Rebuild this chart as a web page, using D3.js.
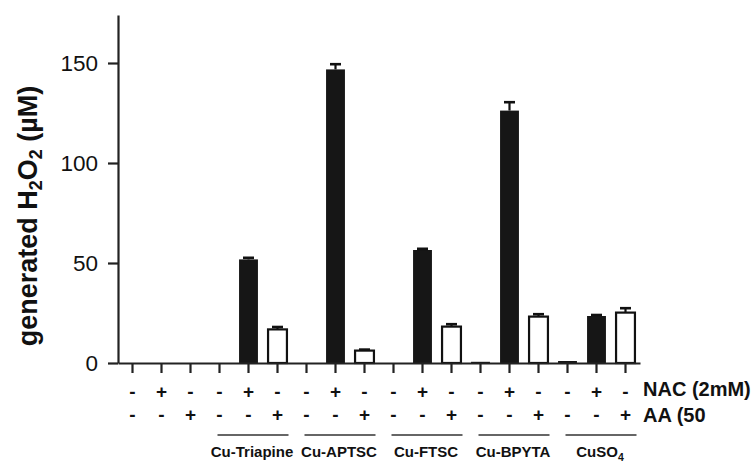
<!DOCTYPE html>
<html><head><meta charset="utf-8">
<script src="https://cdn.jsdelivr.net/npm/d3@7/dist/d3.min.js"></script>
<style>body{margin:0;background:#fff;} svg{display:block;} text{font-family:"Liberation Sans",Arial,Helvetica,sans-serif;}</style>
</head><body>
<svg id="c" width="752" height="462"></svg>
<script>
// ---- data ----
const categories = ["c1","c2","c3","t1","t2","t3","a1","a2","a3","f1","f2","f3","b1","b2","b3","s1","s2","s3"];
const nacSigns = ["-","+","-","-","+","-","-","+","-","-","+","-","-","+","-","-","+","-"];
const aaSigns  = ["-","-","+","-","-","+","-","-","+","-","-","+","-","-","+","-","-","+"];
const values   = [0,0,0, 0,51.8,16.8, 0,146.8,6.2, 0,56.5,18.2, 0.6,126.2,23.2, 1.0,23.5,25.2];
const errors   = [0,0,0, 0,0.8,1.2, 0,2.6,0.5, 0,0.6,1.2, 0,4.2,1.2, 0,0.5,2.2];
const groups   = ["Cu-Triapine","Cu-APTSC","Cu-FTSC","Cu-BPYTA","CuSO4"];
const groupStart = ["t1","a1","f1","b1","s1"];
const groupEnd   = ["t3","a3","f3","b3","s3"];
const yTicks = [0,50,100,150];
const yLabel = "generated H2O2 (µM)";
const rowLabels = ["NAC (2mM)","AA (50"];

// ---- layout ----
const svg = d3.select("#c");
const x = d3.scaleBand().domain(categories).range([118,640]).paddingInner(0.28).paddingOuter(0.14);
const cx = d => x(d) + x.bandwidth()/2;
const y = d3.scaleLinear().domain([0,174]).range([363,15]);

// bars
svg.append("g").selectAll("rect").data(categories).join("rect")
  .attr("x", d => x(d)+1)
  .attr("width", x.bandwidth()-2)
  .attr("y", (d,i) => y(values[i]))
  .attr("height", (d,i) => y(0)-y(values[i]))
  .attr("fill", (d,i) => aaSigns[i]==="+" ? "#fff" : "#161616")
  .attr("stroke", (d,i) => aaSigns[i]==="+" ? "#111" : "none")
  .attr("stroke-width", 2.2)
  .style("display", (d,i) => values[i]>0 ? null : "none");

// error bars
const eg = svg.append("g").attr("stroke","#111").attr("stroke-width",2.2);
categories.forEach((d,i) => {
  if (errors[i] <= 0) return;
  eg.append("line").attr("x1",cx(d)).attr("x2",cx(d)).attr("y1",y(values[i])).attr("y2",y(values[i]+errors[i]));
  eg.append("line").attr("x1",cx(d)-5.5).attr("x2",cx(d)+5.5).attr("y1",y(values[i]+errors[i])).attr("y2",y(values[i]+errors[i])).attr("stroke-width",2.6);
});

// y axis
const ya = svg.append("g").attr("transform","translate(118,0)")
  .call(d3.axisLeft(y).tickValues(yTicks).tickSize(10).tickPadding(10).tickSizeOuter(0));
ya.select(".domain").attr("stroke","#222").attr("stroke-width",2.2);
ya.selectAll(".tick line").attr("stroke","#222").attr("stroke-width",2.2);
ya.selectAll(".tick text").attr("font-size",22.5).attr("fill","#111").style("font-family",'"Liberation Sans",Arial,sans-serif');

// x axis
const xa = svg.append("g").attr("transform","translate(0,363)")
  .call(d3.axisBottom(x).tickSize(10).tickSizeOuter(0).tickFormat(""));
xa.select(".domain").attr("stroke","#222").attr("stroke-width",2.2);
xa.selectAll(".tick line").attr("stroke","#222").attr("stroke-width",2.2);

// sign rows
const sg = svg.append("g").attr("font-size",19).attr("font-weight","bold").attr("text-anchor","middle").attr("fill","#111");
categories.forEach((d,i) => {
  sg.append("text").attr("x",cx(d)).attr("y",398).text(nacSigns[i]);
  sg.append("text").attr("x",cx(d)).attr("y",421).text(aaSigns[i]);
});
svg.append("text").attr("x",643).attr("y",396).attr("font-size",20).attr("font-weight","bold").attr("fill","#111").text(rowLabels[0]);
svg.append("text").attr("x",643).attr("y",422).attr("font-size",20).attr("font-weight","bold").attr("fill","#111").text(rowLabels[1]);

// group lines and labels
groups.forEach((g,k) => {
  const x1 = cx(groupStart[k]) - 2, x2 = cx(groupEnd[k]) + 11;
  svg.append("line").attr("x1",x1).attr("x2",x2).attr("y1",435).attr("y2",435).attr("stroke","#333").attr("stroke-width",1.5);
  const t = svg.append("text").attr("x",(x1+x2)/2 - 1).attr("y",457).attr("text-anchor","middle")
    .attr("font-size",15).attr("font-weight","bold").attr("fill","#111");
  if (g === "CuSO4") {
    t.append("tspan").text("CuSO");
    t.append("tspan").attr("font-size",10.5).attr("dy",4).text("4");
  } else t.text(g);
});

// y label
const yl = svg.append("text").attr("transform","translate(37,216) rotate(-90)").attr("text-anchor","middle")
  .attr("font-size",27).attr("font-weight","bold").attr("fill","#111");
yl.append("tspan").text("generated H");
yl.append("tspan").attr("font-size",18).attr("dy",5).text("2");
yl.append("tspan").attr("dy",-5).text("O");
yl.append("tspan").attr("font-size",18).attr("dy",5).text("2");
yl.append("tspan").attr("dy",-5).text(" (µM)");
</script>
</body></html>
